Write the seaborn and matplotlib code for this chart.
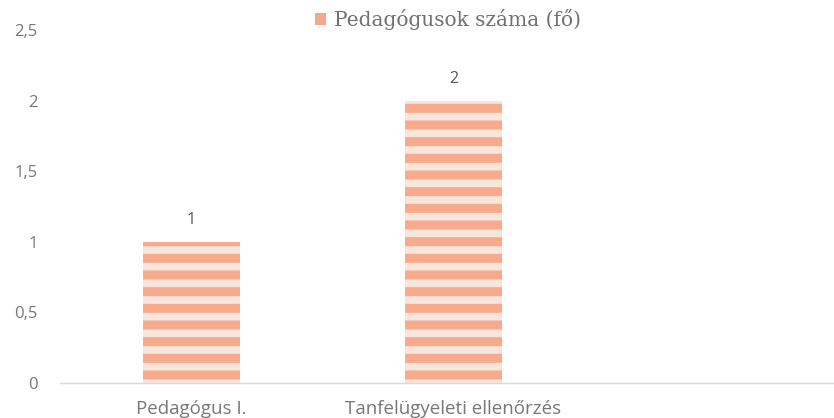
import matplotlib
matplotlib.use("Agg")
import matplotlib.pyplot as plt
import matplotlib.patches as mpatches
import seaborn as sns
import pandas as pd

# adatok
kategoriak = ["Pedagógus I.", "Tanfelügyeleti ellenőrzés"]
ertekek = [1, 2]
sorozat = "Pedagógusok száma (fő)"
y_ticks = [0, 0.5, 1, 1.5, 2, 2.5]
y_tick_labels = ["0", "0,5", "1", "1,5", "2", "2,5"]

df = pd.DataFrame({"kat": kategoriak, "ertek": ertekek})

sns.set_style("white")
plt.rcParams["hatch.linewidth"] = 6.5

fig = plt.figure(figsize=(8.34, 4.18), dpi=100)
ax = fig.add_axes([60 / 834, 35 / 418, 1 - 60 / 834, 353 / 418])

sns.barplot(data=df, x="kat", y="ertek", color="#fde3d6", width=0.37,
            edgecolor="#f7ab8c", linewidth=0, hatch="-", ax=ax)

ax.set_xlim(-0.5, 2.45)
ax.set_ylim(0, 2.5)
ax.set_yticks(y_ticks)
ax.set_yticklabels(y_tick_labels)
ax.set_xlabel("")
ax.set_ylabel("")

for s in ["top", "right", "left"]:
    ax.spines[s].set_visible(False)
ax.spines["bottom"].set_color("#d9d9d9")
ax.spines["bottom"].set_linewidth(1)
ax.tick_params(axis="both", length=0, colors="#777777")
for lab in ax.get_xticklabels():
    lab.set_family("Open Sans")
    lab.set_fontsize(13.5)
for lab in ax.get_yticklabels():
    lab.set_family("Open Sans")
    lab.set_fontsize(12)
ax.tick_params(axis="x", pad=12)
ax.tick_params(axis="y", pad=16)

for c in ax.containers:
    ax.bar_label(c, fmt="%d", padding=10, color="#555555",
                 fontsize=11.5, family="Open Sans")

kez = mpatches.Patch(facecolor="#f4a78a", edgecolor="none", label=sorozat)
leg = fig.legend(handles=[kez], loc="upper center", bbox_to_anchor=(0.537, 1.022),
                 frameon=False, handlelength=0.55, handleheight=0.55,
                 handletextpad=0.4, prop={"family": "DejaVu Serif", "size": 14.5})
for t in leg.get_texts():
    t.set_color("#707070")

fig.savefig("out.png", dpi=100)
